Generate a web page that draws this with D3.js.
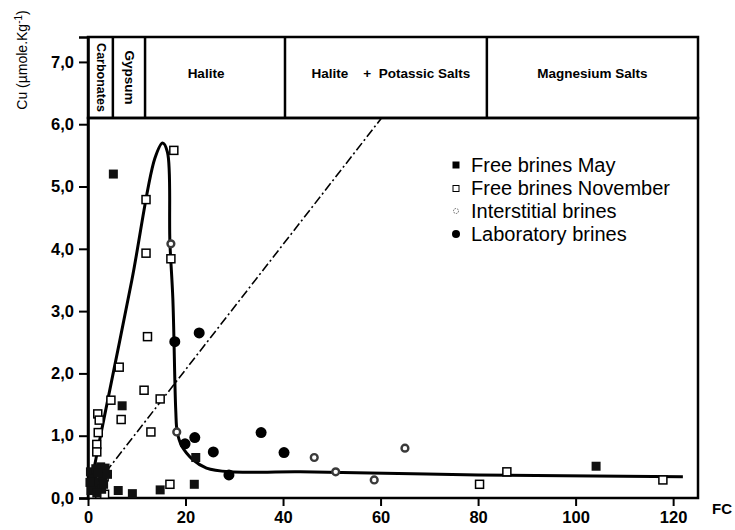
<!DOCTYPE html>
<html>
<head>
<meta charset="utf-8">
<script src="https://cdn.jsdelivr.net/npm/d3@7"></script>
<style>
  body { margin: 0; background: #fff; }
  svg { display: block; font-family: "Liberation Sans", Arial, sans-serif; }
</style>
</head>
<body>
<div id="chart"></div>
<script>
// Cu vs FC, brines data
const xTicks = [0, 20, 40, 60, 80, 100, 120]
const yTicks = [0, 1, 2, 3, 4, 5, 6, 7]
const yTickLabels = ["0,0", "1,0", "2,0", "3,0", "4,0", "5,0", "6,0", "7,0"]

// mineral zones in the top box (FC edges)
const zoneEdges = [0, 5.1, 11.7, 40.4, 81.8, 125.1]
const zoneNames = ["Carbonates", "Gypsum", "Halite", "Halite    +  Potassic Salts", "Magnesium Salts"]

const seriesNames = ["Free brines May", "Free brines November", "Interstitial brines", "Laboratory brines"]

const mayFC = [5.2, 7.0, 22.1, 6.2, 9.1, 14.8, 21.8, 104.2, 0.5, 1.0, 1.6, 2.6, 3.5, 1.2, 2.2, 3.0, 0.6, 2.8, 4.0, 1.8, 0.4, 2.0, 3.2]
const mayCu = [5.20, 1.48, 0.65, 0.12, 0.07, 0.13, 0.22, 0.51, 0.42, 0.30, 0.47, 0.50, 0.48, 0.18, 0.26, 0.33, 0.12, 0.14, 0.38, 0.08, 0.25, 0.40, 0.22]

const novFC = [17.6, 11.9, 11.9, 17.0, 12.2, 6.4, 11.5, 14.8, 4.7, 6.8, 2.0, 2.3, 2.1, 12.9, 1.8, 1.8, 3.3, 16.8, 1.0, 2.4, 3.4, 85.9, 80.3, 117.9]
const novCu = [5.58, 4.79, 3.93, 3.84, 2.59, 2.10, 1.73, 1.59, 1.57, 1.26, 1.35, 1.25, 1.05, 1.06, 0.86, 0.74, 0.34, 0.22, 0.06, 0.06, 0.06, 0.42, 0.22, 0.29]

const interFC = [17.0, 18.2, 46.4, 50.8, 58.7, 65.0]
const interCu = [4.08, 1.06, 0.65, 0.42, 0.29, 0.80]

const labFC = [17.8, 22.8, 21.9, 19.9, 35.5, 25.7, 40.2, 28.9]
const labCu = [2.51, 2.65, 0.97, 0.87, 1.05, 0.74, 0.73, 0.37]

// hand-drawn evolution curve
const curveFC = [0.8, 2.8, 9.0, 13.7, 15.3, 16.3, 16.8, 17.4, 18.0, 18.3, 19.2, 21.6, 24.3, 29.1, 43.5, 80.0, 122.0]
const curveCu = [0.30, 1.09, 3.50, 5.45, 5.70, 5.55, 4.10, 3.20, 1.40, 1.06, 0.84, 0.61, 0.48, 0.42, 0.42, 0.37, 0.34]

// dilution line
const lineFC = [1.5, 60.2]
const lineCu = [0.2, 6.1]

const W = 735, H = 530
const svg = d3.select("#chart").append("svg")
  .attr("width", W)
  .attr("height", H)

const x = d3.scaleLinear().domain([0, 125.1]).range([88, 698])
const y = d3.scaleLinear().domain([0, 7.4]).range([498, 37])
const plotTop = 6.1

const zip = (a, b) => a.map((v, i) => [v, b[i]])

// Top box with zones
const box = svg.append("g")
box.append("rect")
  .attr("x", x(0)).attr("y", y(7.4))
  .attr("width", x(125.1) - x(0)).attr("height", y(plotTop) - y(7.4))
  .attr("fill", "none").attr("stroke", "#000").attr("stroke-width", 2.5)

box.selectAll(".sep")
  .data(zoneEdges.slice(1, -1))
  .enter().append("line")
  .attr("x1", d => x(d)).attr("x2", d => x(d))
  .attr("y1", y(7.4)).attr("y2", y(plotTop))
  .attr("stroke", "#000").attr("stroke-width", 2.5)

const boxMid = (y(7.4) + y(plotTop)) / 2
zoneNames.forEach((name, i) => {
  const cx = (x(zoneEdges[i]) + x(zoneEdges[i + 1])) / 2
  const t = box.append("text")
    .attr("font-size", "13.5px")
    .attr("font-weight", "bold")
    .attr("text-anchor", "middle")
    .attr("dominant-baseline", "central")
    .style("white-space", "pre")
    .text(name)
  if (i < 2) {
    t.attr("transform", `translate(${cx + 1},${boxMid}) rotate(90)`)
      .attr("font-size", i === 0 ? "12.5px" : "13.5px")
  } else {
    t.attr("x", cx + (i === 2 ? -9 : i === 3 ? 5 : 0)).attr("y", boxMid - 4)
  }
})

// Plot frame
svg.append("rect")
  .attr("x", x(0)).attr("y", y(plotTop))
  .attr("width", x(125.1) - x(0)).attr("height", y(0) - y(plotTop))
  .attr("fill", "none").attr("stroke", "#000").attr("stroke-width", 2.5)

// Y axis
const yAxis = svg.append("g")
  .attr("transform", `translate(${x(0)},0)`)
  .call(d3.axisLeft(y).tickValues(yTicks).tickSize(9).tickPadding(5)
    .tickFormat((d, i) => yTickLabels[i]))
yAxis.select(".domain").attr("stroke-width", 2.5)
yAxis.selectAll(".tick line").attr("stroke-width", 2)
yAxis.selectAll("text")
  .attr("font-size", "16.5px").attr("font-weight", "bold").attr("font-family", "Liberation Sans, Arial, sans-serif")

// X axis
const xAxis = svg.append("g")
  .attr("transform", `translate(0,${y(0)})`)
  .call(d3.axisBottom(x).tickValues(xTicks).tickSize(8).tickPadding(5))
xAxis.select(".domain").remove()
xAxis.selectAll(".tick line").attr("stroke-width", 2)
xAxis.selectAll("text")
  .attr("font-size", "16.5px").attr("font-weight", "bold").attr("font-family", "Liberation Sans, Arial, sans-serif")

// Axis labels
svg.append("text")
  .attr("x", 722).attr("y", 514)
  .attr("text-anchor", "middle")
  .attr("font-size", "15px").attr("font-weight", "bold")
  .text("FC")

const yl = svg.append("text")
  .attr("transform", "translate(27,60) rotate(-90)")
  .attr("text-anchor", "middle")
  .attr("font-size", "14px")
yl.append("tspan").text("Cu (\u00b5mole.Kg")
yl.append("tspan").attr("dy", -5).attr("font-size", "10px").text("-1")
yl.append("tspan").attr("dy", 5).text(")")

// Dash-dot line
svg.append("path")
  .datum(zip(lineFC, lineCu))
  .attr("d", d3.line().x(d => x(d[0])).y(d => y(d[1])))
  .attr("fill", "none").attr("stroke", "#000")
  .attr("stroke-width", 1.6)
  .attr("stroke-dasharray", "9,3,2,3")

// Evolution curve
svg.append("path")
  .datum(zip(curveFC, curveCu))
  .attr("d", d3.line().x(d => x(d[0])).y(d => y(d[1])).curve(d3.curveCatmullRom.alpha(0.5)))
  .attr("fill", "none").attr("stroke", "#000")
  .attr("stroke-width", 3)
  .attr("stroke-linejoin", "round")

// Points
svg.selectAll(".nov")
  .data(zip(novFC, novCu))
  .enter().append("rect")
  .attr("x", d => x(d[0]) - 4).attr("y", d => y(d[1]) - 4)
  .attr("width", 8).attr("height", 8)
  .attr("fill", "#fff").attr("stroke", "#000").attr("stroke-width", 1.5)

svg.selectAll(".may")
  .data(zip(mayFC, mayCu))
  .enter().append("rect")
  .attr("x", d => x(d[0]) - 4.5).attr("y", d => y(d[1]) - 4.5)
  .attr("width", 9).attr("height", 9)
  .attr("fill", "#111")

svg.selectAll(".lab")
  .data(zip(labFC, labCu))
  .enter().append("circle")
  .attr("cx", d => x(d[0])).attr("cy", d => y(d[1]))
  .attr("r", 5.5)
  .attr("fill", "#000")

svg.selectAll(".inter")
  .data(zip(interFC, interCu))
  .enter().append("circle")
  .attr("cx", d => x(d[0])).attr("cy", d => y(d[1]))
  .attr("r", 3.4)
  .attr("fill", "#fff").attr("stroke", "#3a3a3a").attr("stroke-width", 2.4)

// Legend
const legend = svg.append("g").attr("transform", "translate(456,165)")
seriesNames.forEach((name, i) => {
  const g = legend.append("g").attr("transform", `translate(0,${i * 23})`)
  if (i === 0) g.append("rect").attr("x", -3.5).attr("y", -3.5).attr("width", 7).attr("height", 7).attr("fill", "#000")
  if (i === 1) g.append("rect").attr("x", -3).attr("y", -2.5).attr("width", 6).attr("height", 6).attr("fill", "none").attr("stroke", "#000").attr("stroke-width", 1)
  if (i === 2) g.append("circle").attr("r", 2.5).attr("fill", "none").attr("stroke", "#666").attr("stroke-width", 1).attr("stroke-dasharray", "1.5,1")
  if (i === 3) g.append("circle").attr("r", 4).attr("fill", "#000")
  g.append("text")
    .attr("x", 15).attr("y", 0)
    .attr("dominant-baseline", "central")
    .attr("font-size", "20px")
    .text(name)
})
</script>
</body>
</html>
